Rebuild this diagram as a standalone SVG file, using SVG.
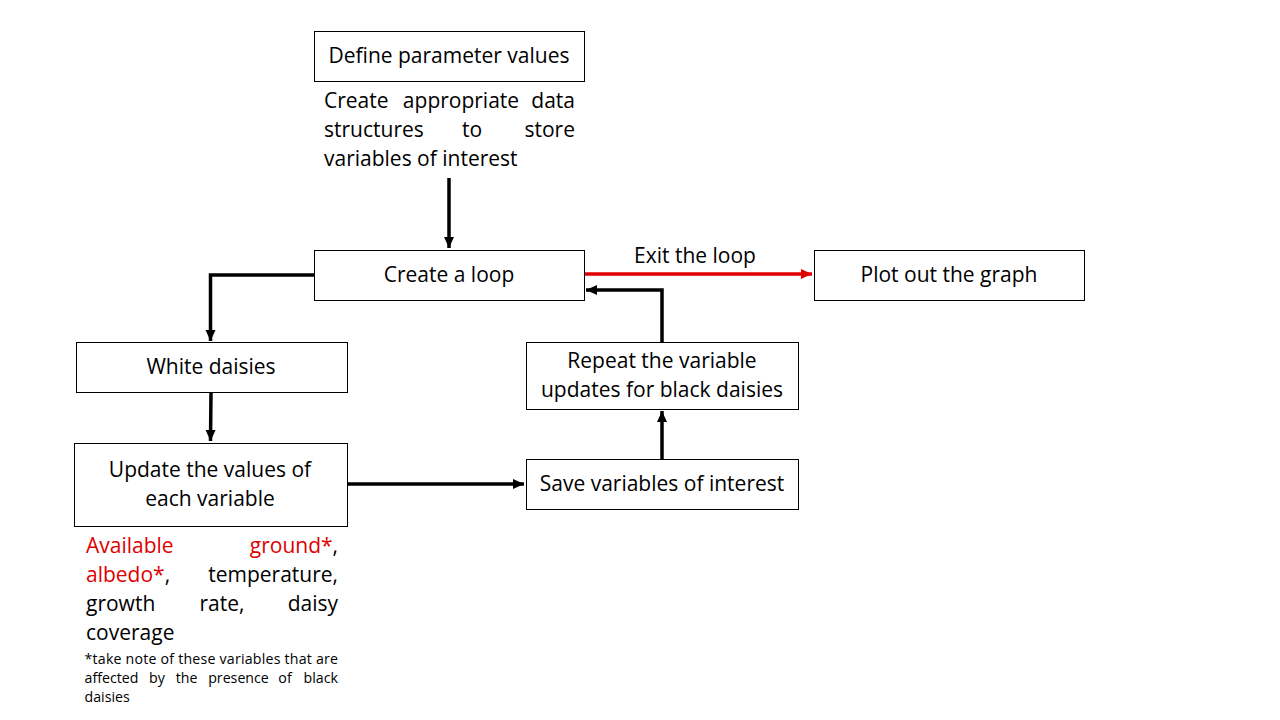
<svg xmlns="http://www.w3.org/2000/svg" width="1280" height="720" viewBox="0 0 1280 720">
<style>
.box{fill:#fff;stroke:#000;stroke-width:1}
text{font-family:"Open Sans","Liberation Sans",sans-serif;font-size:21px;fill:#000}
.c{text-anchor:middle}
.e{text-anchor:end}
.red{fill:#e00000}
.sm{font-size:14.2px}
.ln{fill:none;stroke:#000;stroke-width:3.5}
.rl{fill:none;stroke:#e00000;stroke-width:3.5}
</style>
<defs>
<marker id="ah" markerUnits="userSpaceOnUse" markerWidth="12" markerHeight="12" viewBox="0 0 12 12" refX="11" refY="6" orient="auto"><path d="M0,1 L11,6 L0,11 Z" fill="#000"/></marker>
<marker id="ahr" markerUnits="userSpaceOnUse" markerWidth="12" markerHeight="12" viewBox="0 0 12 12" refX="11" refY="6" orient="auto"><path d="M0,1 L11,6 L0,11 Z" fill="#e00000"/></marker>
</defs>
<rect width="1280" height="720" fill="#fff"/>
<g id="connectors">
<path class="ln" d="M449,178 V248" marker-end="url(#ah)"/>
<path class="ln" d="M314,275 H210.5 V341" marker-end="url(#ah)"/>
<path class="ln" d="M211,392 L210.5,441" marker-end="url(#ah)"/>
<path class="ln" d="M347,484 H524" marker-end="url(#ah)"/>
<path class="ln" d="M662,459 V411" marker-end="url(#ah)"/>
<path class="ln" d="M662,342 V290 H586" marker-end="url(#ah)"/>
<path class="rl" d="M584,274 H812" marker-end="url(#ahr)"/>
<text class="c" x="695" y="263">Exit the loop</text>
</g>
<g id="define">
<rect class="box" x="314.5" y="31.5" width="270" height="50"/>
<text class="c" x="449" y="63">Define parameter values</text>
</g>
<g id="structures">
<text x="324" y="108">Create</text>
<text class="c" x="461" y="108">appropriate</text>
<text class="e" x="575" y="108">data</text>
<text x="324" y="137">structures</text>
<text class="c" x="472" y="137">to</text>
<text class="e" x="575" y="137">store</text>
<text x="324" y="166">variables of interest</text>
</g>
<g id="loop">
<rect class="box" x="314.5" y="250.5" width="270" height="50"/>
<text class="c" x="449" y="282">Create a loop</text>
</g>
<g id="plot">
<rect class="box" x="814.5" y="250.5" width="270" height="50"/>
<text class="c" x="949" y="282">Plot out the graph</text>
</g>
<g id="white">
<rect class="box" x="76.5" y="342.5" width="271" height="50"/>
<text class="c" x="211" y="374">White daisies</text>
</g>
<g id="update">
<rect class="box" x="74.5" y="443.5" width="273" height="83"/>
<text class="c" x="210" y="477">Update the values of</text>
<text class="c" x="210" y="506">each variable</text>
</g>
<g id="variables">
<text class="red" x="86" y="553">Available</text>
<text class="e" x="338" y="553"><tspan class="red">ground*</tspan>,</text>
<text x="86" y="582"><tspan class="red">albedo*</tspan>,</text>
<text class="e" x="338" y="582">temperature,</text>
<text x="86" y="611">growth</text>
<text class="c" x="222" y="611">rate,</text>
<text class="e" x="338" y="611">daisy</text>
<text x="86" y="640">coverage</text>
<g class="note">
<text class="sm" x="84.5" y="664" textLength="253.5" lengthAdjust="spacing">*take note of these variables that are</text>
<text class="sm" x="84.5" y="683">affected</text>
<text class="sm c" x="157" y="683">by</text>
<text class="sm c" x="186.5" y="683">the</text>
<text class="sm c" x="238.5" y="683">presence</text>
<text class="sm c" x="285" y="683">of</text>
<text class="sm e" x="338" y="683">black</text>
<text class="sm" x="84.5" y="702">daisies</text>
</g>
</g>
<g id="save">
<rect class="box" x="526.5" y="459.5" width="272" height="50"/>
<text class="c" x="662" y="491">Save variables of interest</text>
</g>
<g id="repeat">
<rect class="box" x="526.5" y="342.5" width="272" height="67"/>
<text class="c" x="662" y="368">Repeat the variable</text>
<text class="c" x="662" y="397">updates for black daisies</text>
</g>
</svg>
